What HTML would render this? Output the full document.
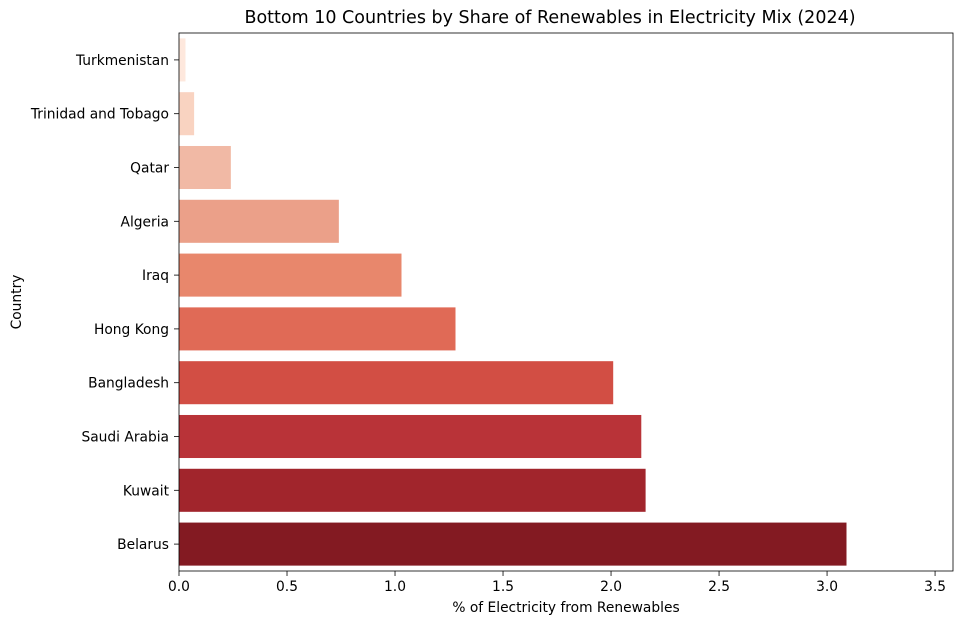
<!DOCTYPE html>
<html><head><meta charset="utf-8"><style>
body{margin:0;background:#fff;font-family:"DejaVu Sans",sans-serif;}
svg text{font-family:"DejaVu Sans",sans-serif;}
</style></head><body>
<svg id="chart" width="963" height="624" xmlns="http://www.w3.org/2000/svg">
<rect width="963" height="624" fill="#fff"/>
<text x="550" y="23" text-anchor="middle" font-size="17.5">Bottom 10 Countries by Share of Renewables in Electricity Mix (2024)</text>
<g id="bars"></g>
<g id="axes"></g>
<text x="566" y="612" text-anchor="middle" font-size="13.8">% of Electricity from Renewables</text>
<text transform="translate(21,302) rotate(-90)" text-anchor="middle" font-size="13.8">Country</text>
</svg>
<script>
const categories=["Turkmenistan","Trinidad and Tobago","Qatar","Algeria","Iraq","Hong Kong","Bangladesh","Saudi Arabia","Kuwait","Belarus"];
const values=[0.03,0.07,0.24,0.74,1.03,1.28,2.01,2.14,2.16,3.09];
const colors=["#fee8dd","#f9d3c1","#f1b9a5","#eba089","#e8876c","#e06a56","#d24e44","#b93338","#a1252c","#831a22"];
const xTicks=[0,0.5,1.0,1.5,2.0,2.5,3.0,3.5];
const xTickLabels=["0.0","0.5","1.0","1.5","2.0","2.5","3.0","3.5"];
const L=179,R=953,T=33,B=571,xMax=3.583;
const x=v=>L+v/xMax*(R-L);
const band=(B-T)/categories.length;
const y=i=>T+i*band;
const NS="http://www.w3.org/2000/svg";
const bars=document.getElementById('bars'),axes=document.getElementById('axes');
function mk(tag,attrs,parent){const e=document.createElementNS(NS,tag);for(const k in attrs)e.setAttribute(k,attrs[k]);parent.appendChild(e);return e;}
categories.forEach((c,i)=>{
  const r=mk('rect',{x:L,y:y(i)+band*0.1,width:x(values[i])-L,height:band*0.8,fill:colors[i]},bars);
  
  
  const t=mk('text',{x:L-10,y:y(i)+band/2+5,'text-anchor':'end','font-size':'13.8'},axes);
  t.textContent=c;
  
  
  mk('line',{x1:L-5,x2:L,y1:y(i)+band/2,y2:y(i)+band/2,stroke:'#000','stroke-width':0.8},axes);
});
xTicks.forEach((v,i)=>{
  mk('line',{x1:x(v),x2:x(v),y1:B,y2:B+5,stroke:'#000','stroke-width':0.8},axes);
  const t=mk('text',{x:x(v),y:B+20,'text-anchor':'middle','font-size':'13.8'},axes);
  t.textContent=xTickLabels[i];
  
  
});
const f=mk('rect',{x:L,y:T,width:R-L,height:B-T,fill:'none',stroke:'#000','stroke-width':0.8},axes);


</script>
</body></html>
